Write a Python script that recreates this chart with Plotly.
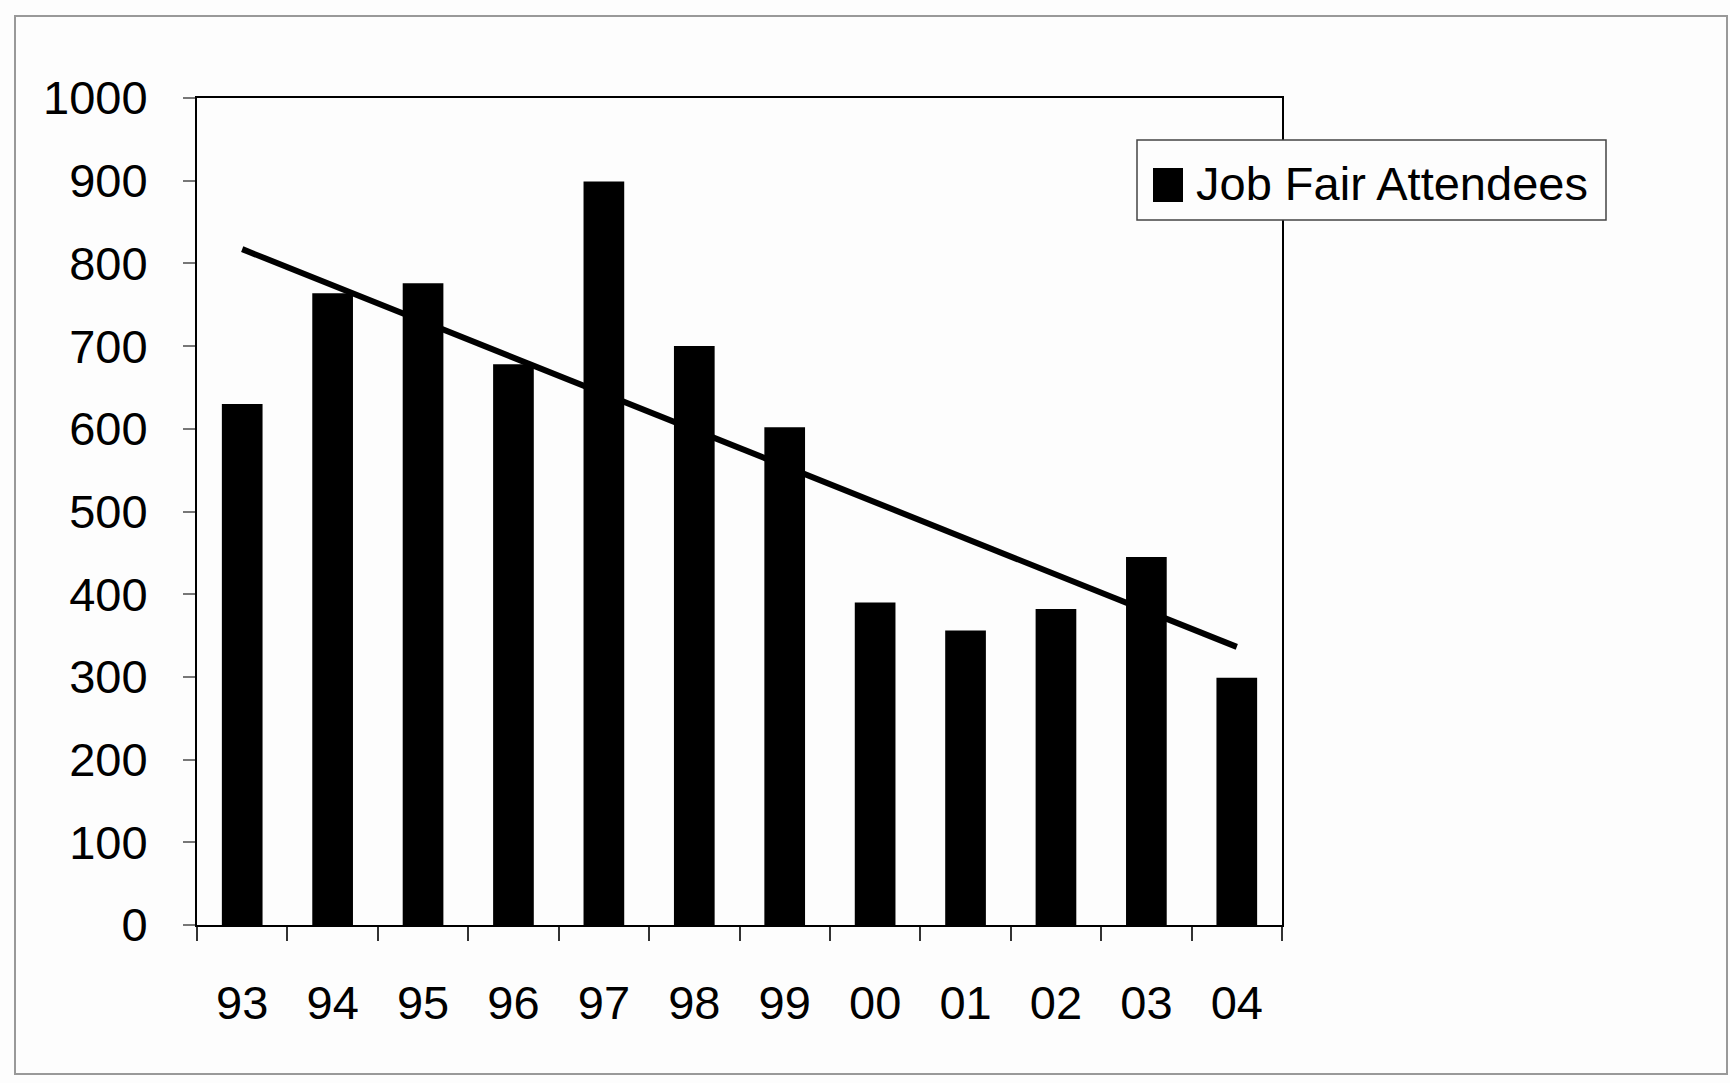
import numpy as np
import plotly.graph_objects as go

# Job fair attendance by year
years = ["93", "94", "95", "96", "97", "98", "99", "00", "01", "02", "03", "04"]
attendees = [630, 764, 776, 678, 899, 700, 602, 390, 356, 382, 445, 299]
y_ticks = [0, 100, 200, 300, 400, 500, 600, 700, 800, 900, 1000]
series_name = "Job Fair Attendees"

# Linear trend fitted to the yearly counts
idx = np.arange(len(years))
slope, intercept = np.polyfit(idx, attendees, 1)
trend = (intercept + slope * idx).tolist()

W, H = 1730, 1083
L, R, T, B = 197, 1282, 98, 925
pw, ph = R - L, B - T


def px(x):
    return (x - L) / pw


def py(y):
    return (B - y) / ph


FONT = "Liberation Sans, Arial, sans-serif"

fig = go.Figure()
fig.add_trace(go.Bar(
    x=years, y=attendees, marker=dict(color="black", line=dict(width=0)),
    showlegend=False, name=series_name,
))
fig.add_trace(go.Scatter(
    x=years, y=trend, mode="lines", line=dict(color="black", width=6),
    showlegend=False,
))

# legend box drawn by hand so the swatch can be large
legend_shapes = [
    dict(type="rect", xref="paper", yref="paper",
         x0=px(1137), x1=px(1606), y0=py(220), y1=py(140),
         line=dict(color="#444", width=1.5), fillcolor="#fdfdfd", layer="above"),
    dict(type="rect", xref="paper", yref="paper",
         x0=px(1153), x1=px(1183), y0=py(202), y1=py(168),
         line=dict(width=0), fillcolor="black", layer="above"),
]
legend_text = dict(
    xref="paper", yref="paper", x=px(1194), y=py(183),
    xanchor="left", yanchor="middle", showarrow=False, text=series_name,
    font=dict(size=47, family=FONT, color="black"),
)

fig.update_layout(
    width=W, height=H,
    margin=dict(l=L, r=W - R, t=T, b=H - B),
    paper_bgcolor="#fdfdfd", plot_bgcolor="#fdfdfd",
    font=dict(family=FONT, color="black"),
    bargap=0.55,
    showlegend=False,
    xaxis=dict(
        type="category", showgrid=False, zeroline=False,
        showline=True, linecolor="black", linewidth=2, mirror=True,
        ticks="outside", tickson="boundaries", ticklen=14, tickcolor="#333",
        tickwidth=1.5, ticklabelstandoff=36,
        tickfont=dict(size=47, family=FONT, color="black"),
    ),
    yaxis=dict(
        range=[0, 1000], tickvals=y_ticks, showgrid=False, zeroline=False,
        showline=True, linecolor="black", linewidth=2, mirror=True,
        ticks="outside", ticklen=12, tickcolor="#777", tickwidth=1.5,
        ticklabelstandoff=26,
        tickfont=dict(size=47, family=FONT, color="black"),
    ),
    shapes=[
        dict(type="rect", xref="paper", yref="paper",
             x0=px(15), x1=px(1727), y0=py(1074), y1=py(16),
             line=dict(color="#999", width=2), fillcolor="rgba(0,0,0,0)",
             layer="below"),
    ] + legend_shapes,
    annotations=[legend_text],
)

fig.write_html("out.html")
